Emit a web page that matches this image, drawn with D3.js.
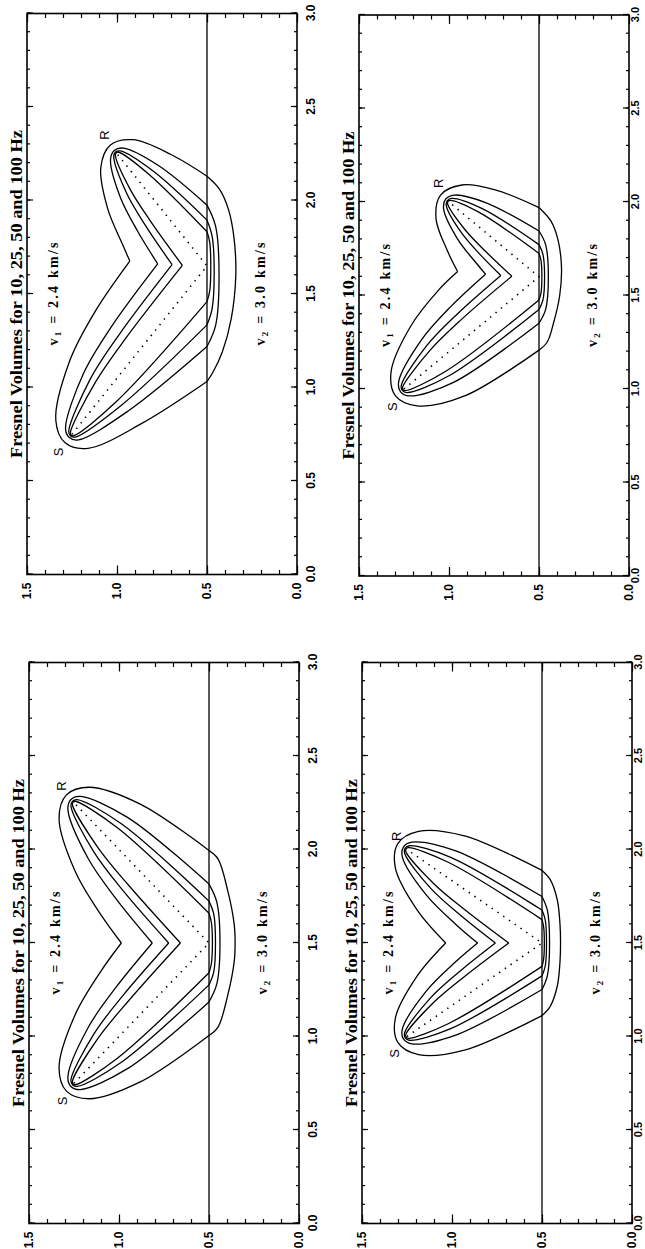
<!DOCTYPE html>
<html>
<head>
<meta charset="utf-8">
<script src="https://cdn.jsdelivr.net/npm/d3@7"></script>
<style>
  html, body { margin: 0; padding: 0; background: #fff; }
  svg { display: block; }
</style>
</head>
<body>
<div id="app"></div>
<script>
// frequencies of the four Fresnel volumes in every panel
const frequencies = [10, 25, 50, 100];
const titleText = "Fresnel Volumes for 10, 25, 50 and 100 Hz";
const velocityLabels = ["2.4 km/s", "3.0 km/s"];
const xTickValues = [0, 0.5, 1.0, 1.5, 2.0, 2.5, 3.0];
const yTickValues = [0, 0.5, 1.0, 1.5];
const interfaceDepth = 0.5;

// panels: top-left, top-right, bottom-left, bottom-right
const sources = [[0.75, 1.25], [1.0, 1.25], [0.75, 1.25], [1.0, 1.25]];
const receivers = [[2.25, 1.0], [2.0, 1.0], [2.25, 1.25], [2.0, 1.25]];
const reflections = [[1.65, 0.5], [1.6, 0.5], [1.5, 0.5], [1.5, 0.5]];
const sourceLabelAt = [[0.655, 1.325], [0.905, 1.315], [0.655, 1.315], [0.91, 1.32]];
const receiverLabelAt = [[2.35, 1.07], [2.10, 1.06], [2.34, 1.317], [2.07, 1.31]];

// each volume: S branch (apex -> around S -> interface), R branch, lens below the interface
const volumesTL = [
  { sBranch: [[1.676,0.929],[1.406,1.122],[1.142,1.263],[0.825,1.340],[0.704,1.288],[0.675,1.161],[0.808,0.862],[1.032,0.5]],
    rBranch: [[1.676,0.929],[1.767,0.970],[1.954,1.051],[2.175,1.090],[2.296,1.038],[2.325,0.911],[2.246,0.700],[2.13,0.5]],
    lens: [[1.032,0.5],[1.08,0.468],[1.19,0.415],[1.37,0.365],[1.6,0.34],[1.8,0.35],[1.95,0.38],[2.06,0.43],[2.13,0.5]] },
  { sBranch: [[1.661,0.774],[1.328,1.029],[1.077,1.185],[0.780,1.286],[0.732,1.265],[0.720,1.214],[0.873,0.940],[1.219,0.5]],
    rBranch: [[1.661,0.774],[1.837,0.886],[2.013,0.980],[2.220,1.036],[2.268,1.015],[2.280,0.964],[2.187,0.770],[1.975,0.5]],
    lens: [[1.219,0.5],[1.332,0.452],[1.597,0.433],[1.862,0.452],[1.975,0.5]] },
  { sBranch: [[1.657,0.694],[1.290,0.983],[1.046,1.148],[0.765,1.268],[0.741,1.258],[0.735,1.232],[0.904,0.977],[1.335,0.5]],
    rBranch: [[1.657,0.694],[1.871,0.845],[2.040,0.947],[2.235,1.018],[2.259,1.008],[2.265,0.982],[2.160,0.803],[1.895,0.5]],
    lens: [[1.335,0.5],[1.419,0.472],[1.615,0.46],[1.811,0.472],[1.895,0.5]] },
  { sBranch: [[1.653,0.637],[1.264,0.951],[1.025,1.122],[0.758,1.259],[0.745,1.254],[0.742,1.241],[0.925,1.003],[1.459,0.5]],
    rBranch: [[1.653,0.637],[1.894,0.817],[2.058,0.926],[2.242,1.009],[2.255,1.004],[2.258,0.991],[2.142,0.825],[1.833,0.5]],
    lens: [[1.459,0.5],[1.515,0.485],[1.646,0.479],[1.777,0.485],[1.833,0.5]] }
];

const volumesTR = [
  { sBranch: [[1.628,0.952],[1.529,1.058],[1.337,1.212],[1.091,1.322],[0.963,1.297],[0.910,1.178],[0.963,0.913],[1.208,0.5]],
    rBranch: [[1.628,0.952],[1.735,1.007],[1.910,1.072],[2.037,1.047],[2.091,0.928],[2.065,0.743],[1.97,0.5]],
    lens: [[1.208,0.5],[1.25,0.455],[1.35,0.42],[1.5,0.385],[1.65,0.375],[1.80,0.395],[1.90,0.435],[1.97,0.5]] },
  { sBranch: [[1.614,0.797],[1.442,0.989],[1.263,1.153],[1.037,1.280],[0.985,1.269],[0.963,1.221],[1.037,0.972],[1.352,0.5]],
    rBranch: [[1.614,0.797],[1.675,0.850],[1.803,0.953],[1.963,1.030],[2.015,1.019],[2.037,0.971],[1.997,0.797],[1.845,0.5]],
    lens: [[1.352,0.5],[1.426,0.463],[1.599,0.448],[1.771,0.463],[1.845,0.5]] },
  { sBranch: [[1.607,0.712],[1.400,0.955],[1.229,1.126],[1.019,1.265],[0.993,1.259],[0.981,1.235],[1.071,1.0],[1.425,0.5]],
    rBranch: [[1.607,0.712],[1.712,0.820],[1.833,0.929],[1.981,1.015],[2.007,1.009],[2.019,0.985],[1.967,0.821],[1.772,0.5]],
    lens: [[1.425,0.5],[1.477,0.478],[1.599,0.469],[1.720,0.478],[1.772,0.5]] },
  { sBranch: [[1.603,0.651],[1.371,0.932],[1.205,1.107],[1.009,1.258],[0.996,1.255],[0.991,1.243],[1.095,1.018],[1.476,0.5]],
    rBranch: [[1.603,0.651],[1.738,0.799],[1.853,0.912],[1.991,1.008],[2.004,1.005],[2.009,0.993],[1.947,0.837],[1.725,0.5]],
    lens: [[1.476,0.5],[1.513,0.489],[1.601,0.484],[1.688,0.489],[1.725,0.5]] }
];

const volumesBL = [
  { sBranch: [[1.5,0.987],[1.350,1.100],[1.118,1.243],[0.833,1.333],[0.708,1.292],[0.667,1.167],[0.757,0.882],[1.005,0.5]],
    rBranch: [[1.5,0.987],[1.650,1.100],[1.882,1.243],[2.167,1.333],[2.292,1.292],[2.333,1.167],[2.243,0.882],[1.995,0.5]],
    lens: [[1.005,0.5],[1.05,0.45],[1.22,0.396],[1.4,0.36],[1.5,0.355],[1.6,0.36],[1.78,0.396],[1.95,0.45],[1.995,0.5]] },
  { sBranch: [[1.5,0.815],[1.265,1.015],[1.047,1.172],[0.784,1.284],[0.733,1.267],[0.716,1.216],[0.828,0.953],[1.185,0.5]],
    rBranch: [[1.5,0.815],[1.735,1.015],[1.953,1.172],[2.216,1.284],[2.267,1.267],[2.284,1.216],[2.172,0.953],[1.815,0.5]],
    lens: [[1.185,0.5],[1.28,0.457],[1.5,0.439],[1.72,0.457],[1.815,0.5]] },
  { sBranch: [[1.5,0.724],[1.224,0.974],[1.014,1.139],[0.767,1.267],[0.742,1.258],[0.733,1.233],[0.862,0.987],[1.276,0.5]],
    rBranch: [[1.5,0.724],[1.776,0.974],[1.986,1.139],[2.233,1.267],[2.258,1.258],[2.267,1.233],[2.138,0.987],[1.724,0.5]],
    lens: [[1.276,0.5],[1.343,0.474],[1.5,0.464],[1.657,0.474],[1.724,0.5]] },
  { sBranch: [[1.5,0.659],[1.194,0.944],[0.991,1.116],[0.759,1.259],[0.746,1.254],[0.742,1.242],[0.884,1.009],[1.341,0.5]],
    rBranch: [[1.5,0.659],[1.806,0.944],[2.009,1.116],[2.241,1.259],[2.254,1.254],[2.258,1.242],[2.116,1.009],[1.659,0.5]],
    lens: [[1.341,0.5],[1.389,0.487],[1.5,0.481],[1.611,0.487],[1.659,0.5]] }
];

const volumesBR = [
  { sBranch: [[1.5,1.035],[1.323,1.194],[1.097,1.315],[0.967,1.300],[0.903,1.186],[0.927,0.931],[1.112,0.5]],
    rBranch: [[1.5,1.035],[1.677,1.194],[1.903,1.315],[2.033,1.300],[2.097,1.186],[2.073,0.931],[1.888,0.5]],
    lens: [[1.112,0.5],[1.16,0.455],[1.27,0.415],[1.4,0.40],[1.5,0.397],[1.6,0.40],[1.73,0.415],[1.84,0.455],[1.888,0.5]] },
  { sBranch: [[1.5,0.858],[1.402,0.977],[1.244,1.142],[1.039,1.276],[0.987,1.270],[0.961,1.224],[1.006,0.983],[1.251,0.5]],
    rBranch: [[1.5,0.858],[1.598,0.977],[1.756,1.142],[1.961,1.276],[2.013,1.270],[2.039,1.224],[1.994,0.983],[1.749,0.5]],
    lens: [[1.251,0.5],[1.326,0.47],[1.5,0.458],[1.674,0.47],[1.749,0.5]] },
  { sBranch: [[1.5,0.759],[1.357,0.946],[1.208,1.118],[1.020,1.263],[0.993,1.260],[0.980,1.237],[1.042,1.007],[1.324,0.5]],
    rBranch: [[1.5,0.759],[1.643,0.946],[1.792,1.118],[1.980,1.263],[2.007,1.260],[2.020,1.237],[1.958,1.007],[1.676,0.5]],
    lens: [[1.324,0.5],[1.377,0.482],[1.5,0.475],[1.623,0.482],[1.676,0.5]] },
  { sBranch: [[1.5,0.685],[1.325,0.925],[1.183,1.101],[1.010,1.257],[0.997,1.255],[0.990,1.243],[1.067,1.024],[1.375,0.5]],
    rBranch: [[1.5,0.685],[1.675,0.925],[1.817,1.101],[1.990,1.257],[2.003,1.255],[2.010,1.243],[1.933,1.024],[1.625,0.5]],
    lens: [[1.375,0.5],[1.413,0.491],[1.5,0.487],[1.587,0.491],[1.625,0.5]] }
];

// plot size before rotation: distance (0-3) along, depth (0-1.5) across
const plotLen = 561;
const plotDepth = 270;

// right column sits close to the page edge, so its distance labels hug the frame
const panels = [
  { volumes: volumesTL, left: 27, top: 13.5, pad: 9, labelSize: 12 },
  { volumes: volumesTR, left: 359, top: 15, pad: 2, labelSize: 11 },
  { volumes: volumesBL, left: 29, top: 662.5, pad: 9, labelSize: 12 },
  { volumes: volumesBR, left: 362, top: 662.5, pad: 2, labelSize: 11 }
];

const svg = d3.select('#app')
  .append('svg')
    .attr('width', 645)
    .attr('height', 1249)
    .style('background', '#fff');

const x = d3.scaleLinear().domain([0, 3]).range([0, plotLen]);
const y = d3.scaleLinear().domain([0, 1.5]).range([plotDepth, 0]);

const curve = d3.line()
  .x(d => x(d[0]))
  .y(d => y(d[1]))
  .curve(d3.curveCatmullRom.alpha(0.5));

const straight = d3.line()
  .x(d => x(d[0]))
  .y(d => y(d[1]));

const minorX = d3.range(0, 3.001, 0.1);
const minorY = d3.range(0, 1.501, 0.1);
const fmt = d3.format('.1f');

function styleAxis(sel, size) {
  sel.select('.domain').remove();
  sel.selectAll('line').attr('stroke', '#000').attr('stroke-width', 1.2);
  sel.selectAll('text')
    .attr('fill', '#000')
    .attr('font-family', 'Liberation Sans, Arial, sans-serif')
    .attr('font-weight', 'bold')
    .attr('font-size', size || 12);
}

panels.forEach((p, i) => {
  // the whole figure is printed turned by a quarter
  const g = svg.append('g')
    .attr('transform', `translate(${p.left}, ${p.top + plotLen}) rotate(-90)`);

  // minor and major ticks on all four sides, pointing inward
  g.append('g').attr('transform', `translate(0, ${plotDepth})`)
    .call(d3.axisBottom(x).tickValues(minorX).tickSize(-3).tickFormat('')).call(styleAxis);
  g.append('g').attr('transform', `translate(0, ${plotDepth})`)
    .call(d3.axisBottom(x).tickValues(xTickValues).tickSize(-6).tickPadding(p.pad).tickFormat(fmt))
    .call(styleAxis, p.labelSize);
  g.append('g')
    .call(d3.axisTop(x).tickValues(minorX).tickSize(-3).tickFormat('')).call(styleAxis);
  g.append('g')
    .call(d3.axisTop(x).tickValues(xTickValues).tickSize(-6).tickFormat('')).call(styleAxis);
  g.append('g')
    .call(d3.axisLeft(y).tickValues(minorY).tickSize(-4.5).tickFormat('')).call(styleAxis);
  g.append('g')
    .call(d3.axisLeft(y).tickValues(yTickValues).tickSize(-9).tickPadding(8).tickFormat(fmt)).call(styleAxis);
  g.append('g').attr('transform', `translate(${plotLen}, 0)`)
    .call(d3.axisRight(y).tickValues(minorY).tickSize(-4.5).tickFormat('')).call(styleAxis);
  g.append('g').attr('transform', `translate(${plotLen}, 0)`)
    .call(d3.axisRight(y).tickValues(yTickValues).tickSize(-9).tickFormat('')).call(styleAxis);

  // frame
  g.append('rect')
    .attr('x', 0).attr('y', 0)
    .attr('width', plotLen).attr('height', plotDepth)
    .attr('fill', 'none').attr('stroke', '#000').attr('stroke-width', 1.6);

  // layer boundary
  g.append('line')
    .attr('x1', x(0)).attr('x2', x(3))
    .attr('y1', y(interfaceDepth)).attr('y2', y(interfaceDepth))
    .attr('stroke', '#000').attr('stroke-width', 1.3);

  // reflected ray
  g.append('path')
    .attr('d', straight([sources[i], reflections[i], receivers[i]]))
    .attr('fill', 'none').attr('stroke', '#000')
    .attr('stroke-width', 1.6).attr('stroke-dasharray', '1.4 5.6');

  // Fresnel volumes
  p.volumes.forEach((v, k) => {
    const vg = g.append('g').attr('class', `f${frequencies[k]}`);
    [v.sBranch, v.rBranch, v.lens].forEach(pts => {
      vg.append('path')
        .attr('d', curve(pts))
        .attr('fill', 'none')
        .attr('stroke', '#000')
        .attr('stroke-width', 1.3)
        .attr('stroke-linejoin', 'miter');
    });
  });

  // title above the frame
  g.append('text')
    .attr('x', x(1.5)).attr('y', -5)
    .attr('text-anchor', 'middle')
    .attr('font-family', 'Liberation Serif, serif')
    .attr('font-weight', 'bold')
    .attr('font-size', 16)
    .attr('textLength', 328)
    .attr('lengthAdjust', 'spacingAndGlyphs')
    .text(titleText);

  // layer velocities
  [[1, 1.33], [2, 0.18]].forEach(([n, depth], j) => {
    const t = g.append('text')
      .attr('x', x(1.5)).attr('y', y(depth))
      .attr('text-anchor', 'middle')
      .attr('font-family', 'Liberation Serif, serif')
      .attr('font-weight', 'bold')
      .attr('font-size', 14)
      .attr('textLength', 103)
      .attr('lengthAdjust', 'spacing');
    t.append('tspan').text('v');
    t.append('tspan').attr('dy', 3).attr('font-size', 9).text(n);
    t.append('tspan').attr('dy', -3).text(' =  ' + velocityLabels[j]);
  });

  // source and receiver marks
  [['S', sourceLabelAt[i]], ['R', receiverLabelAt[i]]].forEach(([s, pos]) => {
    g.append('text')
      .attr('x', x(pos[0])).attr('y', y(pos[1]))
      .attr('text-anchor', 'middle')
      .attr('dominant-baseline', 'central')
      .attr('font-family', 'Liberation Sans, Arial, sans-serif')
      .attr('font-size', 13)
      .text(s);
  });
});
</script>
</body>
</html>
